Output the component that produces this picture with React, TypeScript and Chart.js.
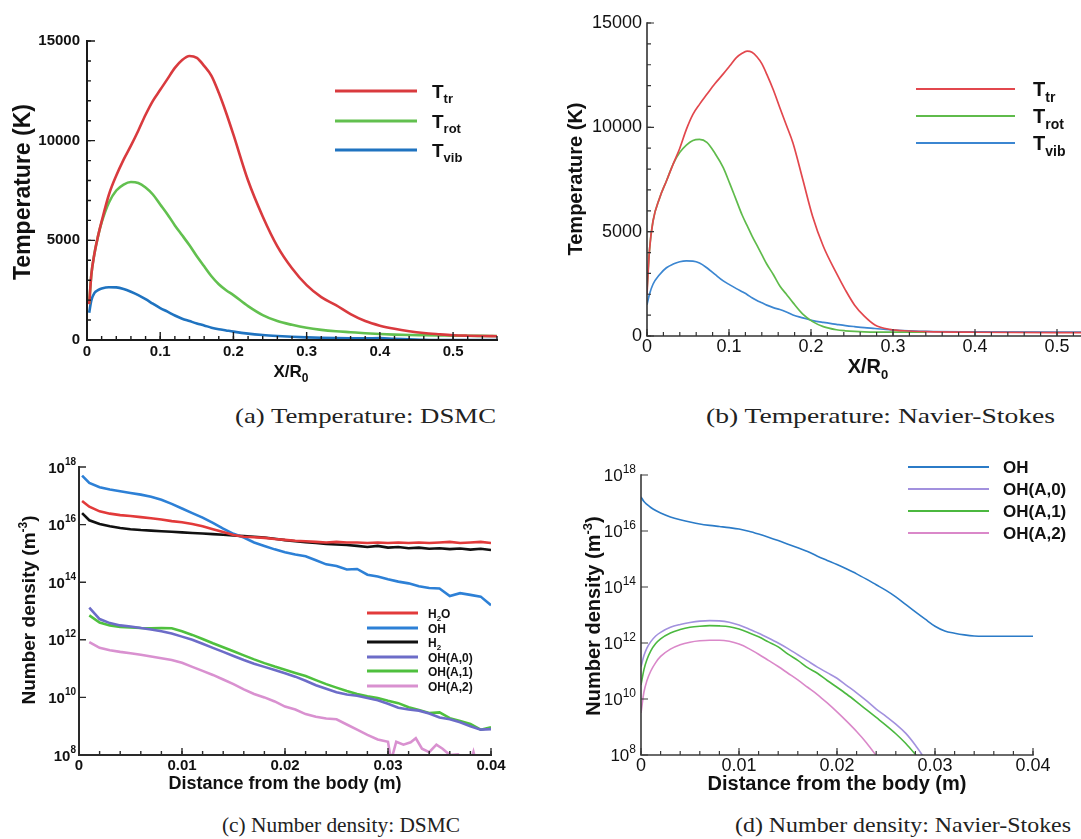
import React, { useEffect, useRef } from 'react';
import { Chart, registerables } from 'chart.js';

Chart.register(...registerables);

const SANS = '"Liberation Sans", Arial, Helvetica, sans-serif';
const SERIF = '"Liberation Serif", "Times New Roman", serif';
const f = (weight: string, size: number) => `${weight} ${size}px ${SANS}`;

// ---------------- (a) Temperature: DSMC ----------------
const xA = [0.003, 0.006, 0.01, 0.015, 0.02, 0.03, 0.04, 0.05, 0.06, 0.07, 0.08, 0.09, 0.10, 0.11, 0.12, 0.13, 0.14, 0.15, 0.16, 0.17, 0.18, 0.19, 0.20, 0.22, 0.24, 0.26, 0.28, 0.30, 0.32, 0.34, 0.36, 0.38, 0.40, 0.42, 0.44, 0.46, 0.48, 0.50, 0.52, 0.54, 0.56];
const tTrA = [1800, 3300, 4300, 5200, 5950, 7300, 8250, 9050, 9750, 10500, 11300, 12000, 12550, 13100, 13650, 14050, 14250, 14150, 13750, 13250, 12400, 11400, 10300, 8000, 6200, 4700, 3600, 2750, 2150, 1750, 1300, 950, 720, 560, 440, 350, 290, 240, 215, 200, 190];
const tRotA = [1800, 3300, 4300, 5200, 5900, 6900, 7500, 7800, 7930, 7880, 7650, 7300, 6800, 6300, 5750, 5250, 4750, 4200, 3700, 3200, 2800, 2500, 2250, 1700, 1250, 950, 760, 610, 510, 440, 390, 340, 300, 270, 250, 240, 230, 220, 210, 205, 200];
const tVibA = [1370, 2000, 2350, 2500, 2580, 2650, 2640, 2560, 2420, 2250, 2050, 1820, 1600, 1420, 1230, 1070, 950, 830, 730, 620, 540, 480, 420, 320, 250, 200, 160, 130, 110, 95, 85, 80, 100, 60, 40, 10, 0, 0, 0, 0, 0];

// ---------------- (b) Temperature: Navier-Stokes ----------------
const xB = [0, 0.003, 0.0073, 0.0155, 0.0237, 0.032, 0.04, 0.048, 0.056, 0.064, 0.073, 0.083, 0.093, 0.101, 0.109, 0.116, 0.122, 0.128, 0.134, 0.14, 0.146, 0.154, 0.162, 0.17, 0.178, 0.19, 0.202, 0.215, 0.231, 0.242, 0.253, 0.265, 0.278, 0.296, 0.32, 0.34, 0.4, 0.55];
const tTrB = [2000, 4100, 5500, 6630, 7430, 8250, 9000, 9900, 10620, 11100, 11580, 12100, 12560, 12950, 13340, 13550, 13650, 13600, 13380, 13050, 12550, 11800, 10940, 10100, 9250, 7500, 5730, 4300, 3010, 2200, 1490, 950, 530, 320, 240, 210, 180, 160];
const tRotB = [2200, 4100, 5500, 6630, 7430, 8250, 8800, 9150, 9370, 9420, 9280, 8750, 8070, 7300, 6500, 5800, 5300, 4800, 4350, 3900, 3450, 2950, 2400, 2000, 1600, 1050, 690, 450, 300, 250, 220, 200, 190, 190, 190, 190];
const tVibB = [1500, 2000, 2480, 2950, 3270, 3450, 3560, 3600, 3590, 3500, 3270, 2950, 2640, 2450, 2270, 2120, 1990, 1830, 1700, 1590, 1480, 1360, 1270, 1150, 1010, 870, 740, 650, 560, 500, 450, 400, 360, 300, 250, 220, 200, 190];

// ---------------- (c) Number density: DSMC (log10 of m^-3) ----------------
const xC = [0.0003, 0.001, 0.002, 0.003, 0.004, 0.005, 0.006, 0.007, 0.008, 0.009, 0.010, 0.011, 0.012, 0.013, 0.014, 0.015, 0.016, 0.017, 0.018, 0.019, 0.020, 0.021, 0.022, 0.023, 0.024, 0.025, 0.026, 0.027, 0.028, 0.029, 0.030, 0.031, 0.032, 0.033, 0.034, 0.035, 0.036, 0.037, 0.038, 0.039, 0.040];
const h2oC = [16.82, 16.62, 16.46, 16.38, 16.33, 16.30, 16.26, 16.22, 16.18, 16.12, 16.08, 16.02, 15.94, 15.84, 15.74, 15.64, 15.58, 15.56, 15.54, 15.50, 15.47, 15.44, 15.42, 15.40, 15.38, 15.40, 15.38, 15.38, 15.36, 15.38, 15.36, 15.38, 15.36, 15.38, 15.36, 15.38, 15.40, 15.36, 15.38, 15.40, 15.36];
const ohC = [17.70, 17.45, 17.30, 17.22, 17.16, 17.10, 17.04, 16.97, 16.86, 16.72, 16.56, 16.40, 16.24, 16.06, 15.86, 15.68, 15.55, 15.38, 15.26, 15.14, 15.04, 14.96, 14.90, 14.76, 14.62, 14.56, 14.44, 14.46, 14.26, 14.20, 14.10, 14.02, 13.96, 13.86, 13.80, 13.78, 13.52, 13.62, 13.56, 13.50, 13.20];
const h2C = [16.40, 16.15, 16.02, 15.94, 15.88, 15.84, 15.81, 15.79, 15.77, 15.75, 15.73, 15.71, 15.69, 15.67, 15.65, 15.62, 15.60, 15.58, 15.55, 15.51, 15.46, 15.42, 15.39, 15.36, 15.33, 15.31, 15.29, 15.26, 15.22, 15.26, 15.20, 15.22, 15.18, 15.20, 15.16, 15.18, 15.15, 15.17, 15.13, 15.16, 15.12];
const ohA0C = [null, 13.12, 12.72, 12.58, 12.50, 12.46, 12.41, 12.36, 12.30, 12.22, 12.11, 12.00, 11.86, 11.72, 11.58, 11.44, 11.30, 11.17, 11.06, 10.95, 10.84, 10.72, 10.58, 10.42, 10.30, 10.18, 10.10, 10.06, 9.98, 9.90, 9.78, 9.64, 9.58, 9.54, 9.44, 9.30, 9.24, 9.14, 9.00, 8.88, 8.90];
const ohA1C = [null, 12.85, 12.60, 12.50, 12.45, 12.43, 12.41, 12.40, 12.41, 12.40, 12.30, 12.17, 12.03, 11.88, 11.74, 11.60, 11.46, 11.32, 11.19, 11.07, 10.96, 10.85, 10.74, 10.60, 10.46, 10.34, 10.22, 10.12, 10.04, 9.98, 9.88, 9.80, 9.66, 9.56, 9.46, 9.48, 9.28, 9.18, 9.08, 8.88, 8.96];
const xPinkC = [0.001, 0.002, 0.003, 0.004, 0.005, 0.006, 0.007, 0.008, 0.009, 0.010, 0.011, 0.012, 0.013, 0.014, 0.015, 0.016, 0.017, 0.018, 0.019, 0.020, 0.021, 0.022, 0.023, 0.024, 0.025, 0.026, 0.027, 0.028, 0.029, 0.030, 0.0303, 0.0308, 0.0315, 0.0322, 0.0327, 0.0333, 0.034, 0.0347, 0.0353, 0.036, 0.0368, 0.0375, 0.038, 0.0383, 0.0386];
const ohA2C = [11.92, 11.72, 11.64, 11.58, 11.53, 11.48, 11.42, 11.36, 11.30, 11.20, 11.06, 10.92, 10.78, 10.62, 10.46, 10.28, 10.12, 10.00, 9.86, 9.68, 9.58, 9.42, 9.33, 9.27, 9.24, 9.06, 8.88, 8.70, 8.54, 8.46, 7.80, 8.46, 8.36, 8.44, 8.58, 8.22, 8.10, 8.36, 8.22, 8.00, 8.02, 7.80, 7.70, 8.10, 7.70];

// ---------------- (d) Number density: Navier-Stokes (log10 of m^-3) ----------------
const xD = [0, 0.0003, 0.0006, 0.001, 0.0015, 0.002, 0.003, 0.004, 0.005, 0.006, 0.007, 0.008, 0.009, 0.010, 0.011, 0.012, 0.013, 0.014, 0.015, 0.016, 0.017, 0.018, 0.019, 0.020, 0.021, 0.022, 0.023, 0.024, 0.025, 0.026, 0.027, 0.028, 0.029, 0.030, 0.031, 0.032, 0.033, 0.034, 0.035, 0.040];
const ohD = [17.22, 17.05, 16.95, 16.84, 16.73, 16.64, 16.50, 16.40, 16.32, 16.25, 16.20, 16.16, 16.12, 16.07, 15.99, 15.89, 15.78, 15.66, 15.53, 15.40, 15.27, 15.10, 14.95, 14.80, 14.64, 14.47, 14.28, 14.08, 13.88, 13.65, 13.38, 13.11, 12.85, 12.60, 12.43, 12.35, 12.29, 12.25, 12.24, 12.24];
const ohA0D = [11.15, 11.55, 11.82, 12.05, 12.25, 12.38, 12.56, 12.66, 12.73, 12.78, 12.80, 12.79, 12.74, 12.64, 12.50, 12.35, 12.18, 12.00, 11.80, 11.58, 11.36, 11.14, 10.94, 10.74, 10.48, 10.22, 9.94, 9.64, 9.38, 9.10, 8.78, 8.35, 7.85];
const ohA1D = [10.50, 11.05, 11.40, 11.72, 11.98, 12.15, 12.36, 12.48, 12.56, 12.60, 12.62, 12.61, 12.58, 12.50, 12.37, 12.22, 12.04, 11.86, 11.60, 11.38, 11.12, 10.92, 10.66, 10.42, 10.17, 9.90, 9.62, 9.34, 9.06, 8.76, 8.42, 8.02, 7.60];
const ohA2D = [9.50, 10.25, 10.65, 11.00, 11.30, 11.52, 11.78, 11.94, 12.03, 12.08, 12.10, 12.10, 12.06, 11.96, 11.80, 11.60, 11.38, 11.16, 10.92, 10.68, 10.42, 10.16, 9.86, 9.54, 9.20, 8.84, 8.44, 7.98, 7.50];

// ---------------- ticks ----------------
const xTicksTemp = [0, 0.1, 0.2, 0.3, 0.4, 0.5];
const yTicksTemp = [0, 5000, 10000, 15000];
const xTicksDist = [0, 0.01, 0.02, 0.03, 0.04];
const logExps = [8, 10, 12, 14, 16, 18];

const steps = (a: number, b: number, s: number) => {
  const out: number[] = [];
  const n = Math.round((b - a) / s);
  for (let i = 0; i <= n; i++) out.push(+(a + i * s).toFixed(6));
  return out;
};

type Part = { t: string; font: string; dy?: number };

function drawRich(ctx: CanvasRenderingContext2D, parts: Part[], x: number, y: number, align: string) {
  let total = 0;
  const ws = parts.map((p) => {
    ctx.font = p.font;
    const w = ctx.measureText(p.t).width;
    total += w;
    return w;
  });
  let cx = align === 'center' ? x - total / 2 : align === 'right' ? x - total : x;
  ctx.textAlign = 'left';
  ctx.textBaseline = 'alphabetic';
  parts.forEach((p, i) => {
    ctx.font = p.font;
    ctx.fillText(p.t, cx, y + (p.dy || 0));
    cx += ws[i];
  });
}

const decorPlugin = {
  id: 'decor',
  afterDraw(chart: any, _args: any, o: any) {
    const ctx: CanvasRenderingContext2D = chart.ctx;
    const { left, right, top, bottom } = chart.chartArea;
    const xs = chart.scales.x;
    const ys = chart.scales.y;
    ctx.save();
    ctx.strokeStyle = o.axisColor;
    ctx.lineCap = 'butt';
    const ticks = (vals: number[], len: number, lw: number, horiz: boolean) => {
      ctx.lineWidth = lw;
      ctx.beginPath();
      vals.forEach((v) => {
        if (horiz) {
          const p = xs.getPixelForValue(v);
          if (p < left - 0.5 || p > right + 0.5) return;
          ctx.moveTo(p, bottom);
          ctx.lineTo(p, bottom - len);
        } else {
          const p = ys.getPixelForValue(v);
          if (p < top - 0.5 || p > bottom + 0.5) return;
          ctx.moveTo(left, p);
          ctx.lineTo(left + len, p);
        }
      });
      ctx.stroke();
    };
    ticks(o.xMinor, o.minorLen, o.tickWidth, true);
    ticks(o.xMajor, o.majorLen, o.tickWidth, true);
    if (o.yMinor) ticks(o.yMinor, o.minorLen, o.tickWidth, false);
    ticks(o.yMajor, o.majorLen, o.tickWidth, false);
    // axes
    ctx.lineWidth = o.axisWidth;
    ctx.lineCap = 'square';
    ctx.beginPath();
    ctx.moveTo(left, top);
    ctx.lineTo(left, bottom);
    ctx.lineTo(right, bottom);
    ctx.stroke();

    ctx.fillStyle = '#111';
    if (o.logLabels) {
      const L = o.logLabels;
      L.exps.forEach((e: number) => {
        const p = ys.getPixelForValue(Math.pow(10, e));
        drawRich(ctx, [
          { t: '10', font: L.base, dy: L.baseDy },
          { t: String(e), font: L.sup, dy: L.supDy },
        ], L.right, p, 'right');
      });
    }
    o.titles.forEach((tt: any) => {
      if (tt.rot) {
        ctx.save();
        ctx.translate(tt.x, tt.y);
        ctx.rotate(-Math.PI / 2);
        drawRich(ctx, tt.parts, 0, 0, 'center');
        ctx.restore();
      } else {
        drawRich(ctx, tt.parts, tt.x, tt.y, 'center');
      }
    });
    const lg = o.legend;
    lg.items.forEach((it: any, i: number) => {
      const y = lg.ys[i];
      ctx.strokeStyle = it.color;
      ctx.lineWidth = lg.lw;
      ctx.lineCap = 'butt';
      ctx.beginPath();
      ctx.moveTo(lg.x1, y);
      ctx.lineTo(lg.x2, y);
      ctx.stroke();
      ctx.fillStyle = '#111';
      drawRich(ctx, it.parts, lg.tx, y + lg.bo, 'left');
    });
    ctx.restore();
  },
};

const series = (label: string, xs: number[], ys: (number | null)[], color: string, width: number, log: boolean, extra: any = {}) => ({
  label,
  data: ys
    .map((v, i) => (v === null ? null : { x: xs[i], y: log ? Math.pow(10, v) : v }))
    .filter((p) => p !== null),
  borderColor: color,
  backgroundColor: color,
  borderWidth: width,
  pointRadius: 0,
  fill: false,
  ...extra,
});

const C = {
  aRed: '#d93a3e', aGreen: '#62c04f', aBlue: '#1f73c0',
  bRed: '#e2474d', bGreen: '#5fbb4b', bBlue: '#3b86d1',
  cH2O: '#e23a3a', cOH: '#2d80d6', cH2: '#111111', cA0: '#6c6cc8', cA1: '#4fc03e', cA2: '#d991d0',
  dOH: '#2b7bc7', dA0: '#a291de', dA1: '#4bb83f', dA2: '#da88c9',
};

const mono = { cubicInterpolationMode: 'monotone' };

const tLegend = (main: string, sub: string, sz: number, subSz: number, dy: number) => [
  { t: main, font: f('bold', sz) },
  { t: sub, font: f('bold', subSz), dy },
];

const panels: any[] = [
  {
    key: 'a',
    box: { left: 0, top: 0, width: 540, height: 400 },
    area: { l: 87, t: 41, r: 497, b: 340 },
    datasets: [
      series('T_tr', xA, tTrA, C.aRed, 2.6, false, mono),
      series('T_rot', xA, tRotA, C.aGreen, 2.6, false, mono),
      series('T_vib', xA, tVibA, C.aBlue, 2.6, false, mono),
    ],
    x: { min: 0, max: 0.56, ticks: xTicksTemp, font: { size: 15, weight: 'bold' }, padding: 3 },
    y: { type: 'linear', min: 0, max: 15000, ticks: yTicksTemp, font: { size: 15, weight: 'bold' }, padding: 7 },
    decor: {
      axisColor: '#1a1a1a', axisWidth: 2, tickWidth: 1.4, majorLen: 8, minorLen: 4,
      xMajor: xTicksTemp, xMinor: steps(0, 0.56, 0.02), yMajor: yTicksTemp, yMinor: steps(0, 15000, 1000),
      titles: [
        { x: 30, y: 192, rot: true, parts: [{ t: 'Temperature (K)', font: f('bold', 23) }] },
        { x: 291, y: 377, parts: [{ t: 'X/R', font: f('bold', 17) }, { t: '0', font: f('bold', 12), dy: 5 }] },
      ],
      legend: {
        x1: 335, x2: 417, tx: 432, ys: [91, 121, 150], bo: 7, lw: 3,
        items: [
          { color: C.aRed, parts: tLegend('T', 'tr', 19, 13, 5) },
          { color: C.aGreen, parts: tLegend('T', 'rot', 19, 13, 5) },
          { color: C.aBlue, parts: tLegend('T', 'vib', 19, 13, 5) },
        ],
      },
    },
  },
  {
    key: 'b',
    box: { left: 560, top: 0, width: 540, height: 400 },
    area: { l: 647, t: 23, r: 1098, b: 336 },
    datasets: [
      series('T_tr', xB, tTrB, C.bRed, 1.7, false, mono),
      series('T_rot', xB, tRotB, C.bGreen, 1.7, false, mono),
      series('T_vib', xB, tVibB, C.bBlue, 1.7, false, mono),
    ],
    x: { min: 0, max: 0.55, ticks: xTicksTemp, font: { size: 18, weight: 'normal' }, padding: 0 },
    y: { type: 'linear', min: 0, max: 15000, ticks: yTicksTemp, font: { size: 18, weight: 'normal' }, padding: 5 },
    decor: {
      axisColor: '#333', axisWidth: 1.6, tickWidth: 1.2, majorLen: 7, minorLen: 4,
      xMajor: xTicksTemp, xMinor: steps(0, 0.54, 0.02), yMajor: yTicksTemp, yMinor: steps(0, 15000, 1000),
      titles: [
        { x: 22, y: 179, rot: true, parts: [{ t: 'Temperature (K)', font: f('bold', 20) }] },
        { x: 308, y: 373, parts: [{ t: 'X/R', font: f('bold', 20) }, { t: '0', font: f('bold', 13), dy: 6 }] },
      ],
      legend: {
        x1: 356, x2: 455, tx: 473, ys: [89, 116, 143], bo: 7, lw: 2,
        items: [
          { color: C.bRed, parts: tLegend('T', 'tr', 20, 14, 6) },
          { color: C.bGreen, parts: tLegend('T', 'rot', 20, 14, 6) },
          { color: C.bBlue, parts: tLegend('T', 'vib', 20, 14, 6) },
        ],
      },
    },
  },
  {
    key: 'c',
    box: { left: 0, top: 430, width: 540, height: 370 },
    area: { l: 79, t: 467, r: 491, b: 755 },
    datasets: [
      series('H2O', xC, h2oC, C.cH2O, 2.6, true),
      series('OH', xC, ohC, C.cOH, 2.6, true),
      series('H2', xC, h2C, C.cH2, 2.6, true),
      series('OH(A,0)', xC, ohA0C, C.cA0, 2.6, true),
      series('OH(A,1)', xC, ohA1C, C.cA1, 2.6, true),
      series('OH(A,2)', xPinkC, ohA2C, C.cA2, 2.6, true),
    ],
    x: { min: 0, max: 0.04, ticks: xTicksDist, font: { size: 15, weight: 'bold' }, padding: 2 },
    y: { type: 'logarithmic', min: 1e8, max: 1e18 },
    decor: {
      axisColor: '#2a2a2a', axisWidth: 2, tickWidth: 1.4, majorLen: 7, minorLen: 4,
      xMajor: xTicksDist, xMinor: steps(0, 0.04, 0.002), yMajor: logExps.map((e) => Math.pow(10, e)),
      logLabels: { exps: logExps, right: 76, base: f('bold', 15), sup: f('bold', 10), baseDy: 5.5, supDy: -2.5 },
      titles: [
        { x: 35, y: 180, rot: true, parts: [{ t: 'Number density (m', font: f('bold', 19) }, { t: '-3', font: f('bold', 12), dy: -8 }, { t: ')', font: f('bold', 19) }] },
        { x: 285, y: 359, parts: [{ t: 'Distance from the body (m)', font: f('bold', 18) }] },
      ],
      legend: {
        x1: 367, x2: 418, tx: 428, ys: [183, 198, 212, 227, 241, 256], bo: 4.5, lw: 3,
        items: [
          { color: C.cH2O, parts: [{ t: 'H', font: f('bold', 12) }, { t: '2', font: f('bold', 8), dy: 3 }, { t: 'O', font: f('bold', 12) }] },
          { color: C.cOH, parts: [{ t: 'OH', font: f('bold', 12) }] },
          { color: C.cH2, parts: [{ t: 'H', font: f('bold', 12) }, { t: '2', font: f('bold', 8), dy: 3 }] },
          { color: C.cA0, parts: [{ t: 'OH(A,0)', font: f('bold', 12) }] },
          { color: C.cA1, parts: [{ t: 'OH(A,1)', font: f('bold', 12) }] },
          { color: C.cA2, parts: [{ t: 'OH(A,2)', font: f('bold', 12) }] },
        ],
      },
    },
  },
  {
    key: 'd',
    box: { left: 560, top: 430, width: 521, height: 370 },
    area: { l: 641, t: 475, r: 1033, b: 755 },
    datasets: [
      series('OH', xD, ohD, C.dOH, 1.6, true, mono),
      series('OH(A,0)', xD, ohA0D, C.dA0, 1.6, true, mono),
      series('OH(A,1)', xD, ohA1D, C.dA1, 1.6, true, mono),
      series('OH(A,2)', xD, ohA2D, C.dA2, 1.6, true, mono),
    ],
    x: { min: 0, max: 0.04, ticks: xTicksDist, font: { size: 18, weight: 'normal' }, padding: 0 },
    y: { type: 'logarithmic', min: 1e8, max: 1e18 },
    decor: {
      axisColor: '#3a3a3a', axisWidth: 1.6, tickWidth: 1.2, majorLen: 7, minorLen: 4,
      xMajor: xTicksDist, xMinor: steps(0, 0.04, 0.002), yMajor: logExps.map((e) => Math.pow(10, e)),
      logLabels: { exps: logExps, right: 76, base: f('normal', 17), sup: f('normal', 12), baseDy: 6, supDy: -2.5 },
      titles: [
        { x: 40, y: 186, rot: true, parts: [{ t: 'Number density (m', font: f('bold', 20) }, { t: '-3', font: f('bold', 13), dy: -8 }, { t: ')', font: f('bold', 20) }] },
        { x: 277, y: 360, parts: [{ t: 'Distance from the body (m)', font: f('bold', 20) }] },
      ],
      legend: {
        x1: 348, x2: 429, tx: 443, ys: [37, 59, 81, 103], bo: 6, lw: 2,
        items: [
          { color: C.dOH, parts: [{ t: 'OH', font: f('bold', 17) }] },
          { color: C.dA0, parts: [{ t: 'OH(A,0)', font: f('bold', 17) }] },
          { color: C.dA1, parts: [{ t: 'OH(A,1)', font: f('bold', 17) }] },
          { color: C.dA2, parts: [{ t: 'OH(A,2)', font: f('bold', 17) }] },
        ],
      },
    },
  },
];

function Panel({ cfg }: { cfg: any }) {
  const ref = useRef<HTMLCanvasElement>(null);
  useEffect(() => {
    const canvas = ref.current;
    if (!canvas) return;
    const { box, area } = cfg;
    const yW = area.l - box.left;
    const padTop = area.t - box.top;
    const padRight = box.left + box.width - area.r;
    const xH = box.top + box.height - area.b;
    const fmt = (v: any) => String(+Number(v).toFixed(4));
    const yScale: any =
      cfg.y.type === 'logarithmic'
        ? {
            type: 'logarithmic', min: cfg.y.min, max: cfg.y.max,
            grid: { display: false, drawTicks: false }, border: { display: false },
            ticks: { display: false },
            afterFit: (s: any) => { s.width = yW; },
          }
        : {
            type: 'linear', min: cfg.y.min, max: cfg.y.max,
            grid: { display: false, drawTicks: false }, border: { display: false },
            ticks: { autoSkip: false, font: { family: SANS, ...cfg.y.font }, color: '#111', padding: cfg.y.padding, callback: fmt },
            afterBuildTicks: (s: any) => { s.ticks = cfg.y.ticks.map((v: number) => ({ value: v })); },
            afterFit: (s: any) => { s.width = yW; },
          };
    const chart = new Chart(canvas, {
      type: 'line',
      data: { datasets: cfg.datasets },
      options: {
        animation: false,
        responsive: false,
        maintainAspectRatio: false,
        events: [],
        layout: { padding: { left: 0, top: padTop, right: padRight, bottom: 0 } },
        plugins: { legend: { display: false }, tooltip: { enabled: false }, decor: cfg.decor } as any,
        scales: {
          x: {
            type: 'linear', min: cfg.x.min, max: cfg.x.max,
            grid: { display: false, drawTicks: false }, border: { display: false },
            ticks: { autoSkip: false, maxRotation: 0, font: { family: SANS, ...cfg.x.font }, color: '#111', padding: cfg.x.padding, callback: fmt },
            afterBuildTicks: (s: any) => { s.ticks = cfg.x.ticks.map((v: number) => ({ value: v })); },
            afterFit: (s: any) => { s.height = xH; },
          } as any,
          y: yScale,
        },
      } as any,
      plugins: [decorPlugin as any],
    });
    return () => chart.destroy();
  }, [cfg]);
  return (
    <canvas
      ref={ref}
      width={cfg.box.width}
      height={cfg.box.height}
      style={{ position: 'absolute', left: cfg.box.left, top: cfg.box.top, width: cfg.box.width, height: cfg.box.height }}
    />
  );
}

const captions = [
  { text: '(a) Temperature: DSMC', left: 235, top: 405, width: 261 },
  { text: '(b) Temperature: Navier-Stokes', left: 706, top: 405, width: 349 },
  { text: '(c) Number density: DSMC', left: 222, top: 814, width: 238 },
  { text: '(d) Number density: Navier-Stokes', left: 735, top: 814, width: 336 },
];

function Caption({ c }: { c: any }) {
  const ref = useRef<HTMLSpanElement>(null);
  useEffect(() => {
    const el = ref.current;
    if (!el) return;
    el.style.transform = 'none';
    const w = el.getBoundingClientRect().width;
    if (w > 0) el.style.transform = `scaleX(${c.width / w})`;
  }, [c]);
  return (
    <span
      ref={ref}
      style={{
        position: 'absolute', left: c.left, top: c.top, whiteSpace: 'nowrap',
        fontFamily: SERIF, fontSize: 22, lineHeight: '22px', color: '#222', transformOrigin: '0 0',
      }}
    >
      {c.text}
    </span>
  );
}

export default function App() {
  return (
    <div style={{ position: 'absolute', left: 0, top: 0, width: 1081, height: 839, overflow: 'hidden', background: '#fff' }}>
      {panels.map((p) => (
        <Panel key={p.key} cfg={p} />
      ))}
      {captions.map((c) => (
        <Caption key={c.text} c={c} />
      ))}
    </div>
  );
}
